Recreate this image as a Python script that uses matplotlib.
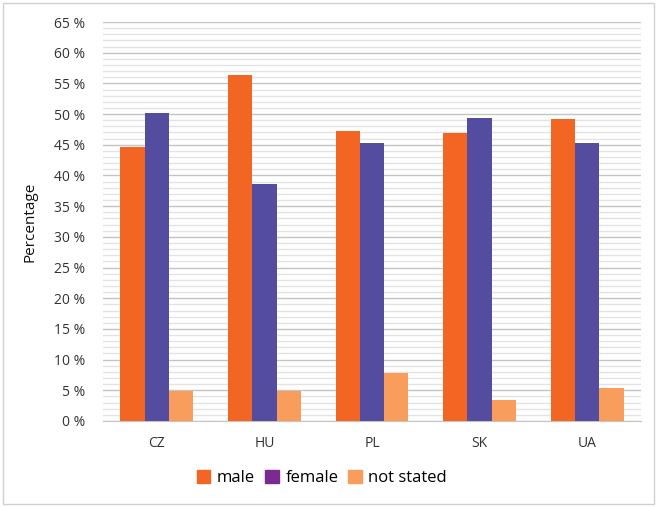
import matplotlib.pyplot as plt
import matplotlib.patches as mpatches
from matplotlib.ticker import MultipleLocator, FuncFormatter
import numpy as np

plt.rcParams['font.family'] = ['Open Sans', 'DejaVu Sans']

countries = ['CZ', 'HU', 'PL', 'SK', 'UA']
male = [44.6, 56.4, 47.3, 46.9, 49.2]
female = [50.2, 38.6, 45.3, 49.3, 45.3]
not_stated = [4.9, 4.9, 7.9, 3.5, 5.4]

c_male = '#F26522'
c_female = '#544C9F'
c_ns = '#F89D5B'

fig = plt.figure(figsize=(6.57, 5.07), dpi=100)
ax = fig.add_axes([103 / 657, 86 / 507, 538 / 657, 399 / 507])

x = np.arange(len(countries))
w = 0.225
ax.bar(x - w, male, w, color=c_male, zorder=3)
ax.bar(x, female, w, color=c_female, zorder=3)
ax.bar(x + w, not_stated, w, color=c_ns, zorder=3)

ax.set_xlim(-0.5, 4.5)
ax.set_ylim(0, 65)
ax.yaxis.set_major_locator(MultipleLocator(5))
ax.yaxis.set_minor_locator(MultipleLocator(1))
ax.yaxis.set_major_formatter(FuncFormatter(lambda v, p: '%d %%' % v))
ax.grid(axis='y', which='major', color='#C4C4C4', lw=1.0, zorder=0)
ax.grid(axis='y', which='minor', color='#E3E3E3', lw=1.0, zorder=0)

ax.set_xticks(x)
ax.set_xticklabels(countries)
for s in ['top', 'right', 'left']:
    ax.spines[s].set_visible(False)
ax.spines['bottom'].set_color('#C4C4C4')
ax.tick_params(axis='both', which='both', length=0, labelsize=10, colors='#333333')
ax.tick_params(axis='x', pad=11)
ax.tick_params(axis='y', pad=13)
ax.set_ylabel('Percentage', fontsize=11, color='#111111', labelpad=12)

handles = [mpatches.Patch(color=c_male, label='male'),
           mpatches.Patch(color='#7B2A91', label='female'),
           mpatches.Patch(color=c_ns, label='not stated')]
fig.legend(handles=handles, loc='center', bbox_to_anchor=(322 / 657, 1 - 478 / 507),
           ncol=3, frameon=False, fontsize=12, handlelength=0.8, handleheight=0.8,
           handletextpad=0.4, columnspacing=0.6)

fig.patches.append(mpatches.Rectangle((3 / 657, 3 / 507), 651 / 657, 501 / 507,
                                      transform=fig.transFigure, fill=False,
                                      edgecolor='#D0D0D0', lw=1))

plt.savefig('out.png', dpi=100)
